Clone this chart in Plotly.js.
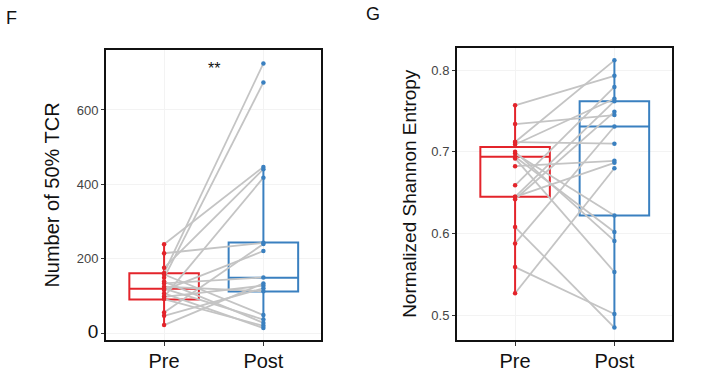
<!DOCTYPE html>
<html>
<head>
<meta charset="utf-8">
<script src="https://cdn.plot.ly/plotly-3.0.1.min.js"></script>
<style>html,body{margin:0;padding:0;background:#fff}#chart{width:702px;height:378px}</style>
</head>
<body>
<div id="chart"></div>
<script>
// ---- Panel F: Number of 50% TCR (paired Pre -> Post) ----
const groups = ['Pre', 'Post'];
const tcrPre  = [239, 215, 162, 149, 176, 158, 139, 134, 125, 116, 107, 98, 98, 56, 47, 22, 120, 92];
const tcrPost = [447, 243, 725, 674, 441, 49, 28, 150, 113, 221, 14, 418, 128, 240, 121, 134, 37, 20];
// box statistics [Pre, Post]
const tcrQ1 = [91, 112];
const tcrMed = [120, 149];
const tcrQ3 = [161, 244];
const tcrLo = [20, 14];
const tcrHi = [239, 447];

// ---- Panel G: Normalized Shannon Entropy ----
const entPre  = [0.757, 0.734, 0.712, 0.709, 0.698, 0.694, 0.692, 0.6825, 0.659, 0.645, 0.642, 0.608, 0.588, 0.559, 0.527, 0.700, 0.712, 0.645];
const entPost = [0.793, 0.745, 0.812, 0.765, 0.622, 0.602, 0.553, 0.689, 0.7795, 0.762, 0.749, 0.485, 0.731, 0.5016, 0.680, 0.591, 0.710, 0.6866];
const entQ1 = [0.645, 0.622];
const entMed = [0.694, 0.731];
const entQ3 = [0.706, 0.762];
const entLo = [0.527, 0.485];
const entHi = [0.757, 0.812];

const tcrTicks = [0, 200, 400, 600];
const entTicks = [0.5, 0.6, 0.7, 0.8];

const RED = '#e3242b', BLUE = '#3a80c0', GREY = '#c4c4c4';

function pairLines(pre, post) {
  const x = [], y = [];
  for (let i = 0; i < pre.length; i++) {
    x.push(groups[0], groups[1], null);
    y.push(pre[i], post[i], null);
  }
  return {x, y};
}

function panel(pre, post, q1, med, q3, lo, hi, xa, ya) {
  const tr = [];
  const colors = [RED, BLUE];
  for (let g = 0; g < 2; g++) {
    tr.push({
      type: 'box', x: [groups[g]], q1: [q1[g]], median: [med[g]], q3: [q3[g]],
      lowerfence: [lo[g]], upperfence: [hi[g]], width: 0.7, whiskerwidth: 0,
      line: {color: colors[g], width: 2}, fillcolor: 'rgba(255,255,255,0)',
      boxpoints: false, xaxis: xa, yaxis: ya, showlegend: false, hoverinfo: 'skip'
    });
  }
  const pl = pairLines(pre, post);
  tr.push({type: 'scatter', mode: 'lines', x: pl.x, y: pl.y, line: {color: GREY, width: 1.8},
    xaxis: xa, yaxis: ya, showlegend: false, hoverinfo: 'skip', connectgaps: false});
  tr.push({type: 'scatter', mode: 'markers', x: pre.map(() => groups[0]), y: pre,
    marker: {color: RED, size: 4.5}, xaxis: xa, yaxis: ya, showlegend: false});
  tr.push({type: 'scatter', mode: 'markers', x: post.map(() => groups[1]), y: post,
    marker: {color: BLUE, size: 4.5}, xaxis: xa, yaxis: ya, showlegend: false});
  return tr;
}

const data = [
  ...panel(tcrPre, tcrPost, tcrQ1, tcrMed, tcrQ3, tcrLo, tcrHi, 'x', 'y'),
  ...panel(entPre, entPost, entQ1, entMed, entQ3, entLo, entHi, 'x2', 'y2')
];

const FONT = 'Liberation Sans, Arial, sans-serif';
const xBase = {
  type: 'category', categoryorder: 'array', categoryarray: groups,
  range: [-0.585, 1.58], showline: true, mirror: true, linecolor: '#111', linewidth: 2,
  ticks: 'outside', ticklen: 4, tickcolor: '#333', tickwidth: 1, ticklabelstandoff: -2,
  tickfont: {family: FONT, size: 20, color: '#111'},
  showgrid: true, gridcolor: '#f3f3f3', gridwidth: 1, zeroline: false, automargin: false, fixedrange: true
};
const yBase = {
  showline: true, mirror: true, linecolor: '#111', linewidth: 2,
  ticks: 'outside', ticklen: 3, tickcolor: '#333', tickwidth: 1,
  tickfont: {family: FONT, size: 13, color: '#444'},
  showgrid: true, gridcolor: '#f3f3f3', gridwidth: 1, zeroline: false, automargin: false, fixedrange: true
};

const layout = {
  width: 702, height: 378,
  margin: {l: 0, r: 0, t: 0, b: 0},
  paper_bgcolor: '#fff', plot_bgcolor: '#fff',
  showlegend: false,
  font: {family: FONT},
  xaxis: Object.assign({}, xBase, {domain: [106/702, 321/702], anchor: 'y'}),
  yaxis: Object.assign({}, yBase, {
    domain: [1 - 340/378, 1 - 50/378], anchor: 'x', range: [-18, 761],
    tickmode: 'array', tickvals: tcrTicks,
    ticktext: tcrTicks.map(v => v === 0 ? '<span style="font-size:19px;fill:#111">0</span>' : String(v)),
    title: {text: 'Number of 50% TCR', font: {family: FONT, size: 20, color: '#111'}, standoff: 12}
  }),
  xaxis2: Object.assign({}, xBase, {domain: [457/702, 672/702], anchor: 'y2'}),
  yaxis2: Object.assign({}, yBase, {
    domain: [1 - 340/378, 1 - 47.5/378], anchor: 'x2', range: [0.4698, 0.8277],
    tickmode: 'array', tickvals: entTicks, ticktext: entTicks.map(v => v.toFixed(1)),
    title: {text: 'Normalized Shannon Entropy', font: {family: FONT, size: 19, color: '#111'}, standoff: 10}
  }),
  annotations: [
    {text: 'F', xref: 'paper', yref: 'paper', x: 11/702, y: 1 - 18/378, xanchor: 'center', yanchor: 'middle',
     showarrow: false, font: {family: FONT, size: 18, color: '#111'}},
    {text: 'G', xref: 'paper', yref: 'paper', x: 373/702, y: 1 - 14/378, xanchor: 'center', yanchor: 'middle',
     showarrow: false, font: {family: FONT, size: 18, color: '#111'}},
    {text: '**', xref: 'x', yref: 'y', x: 0.5, y: 712, xanchor: 'center', yanchor: 'middle',
     showarrow: false, font: {family: FONT, size: 16, color: '#111'}}
  ]
};

Plotly.newPlot('chart', data, layout, {displayModeBar: false, staticPlot: true});
</script>
</body>
</html>
